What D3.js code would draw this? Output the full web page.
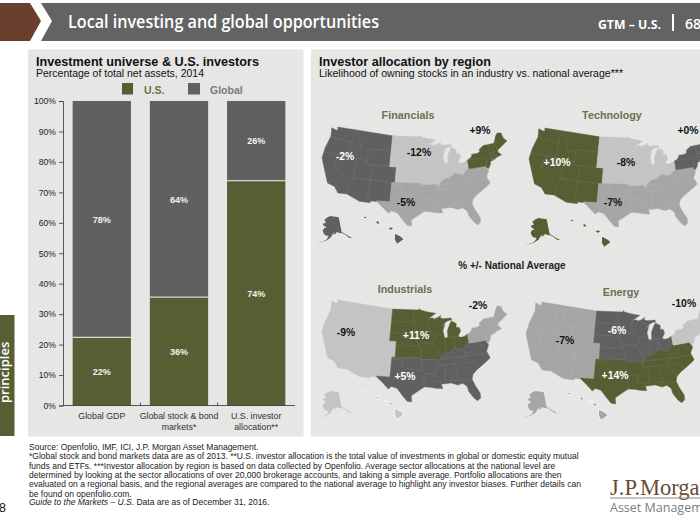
<!DOCTYPE html>
<html><head><meta charset="utf-8">
<script src="https://cdn.jsdelivr.net/npm/d3@7"></script>
<style>html,body{margin:0;padding:0;background:#fff;overflow:hidden}svg{display:block}text{font-family:"Liberation Sans",Arial,sans-serif}</style>
</head><body><svg id="c" width="700" height="525"></svg>
<script>
// ---------- bar chart data ----------
const barCategories = [["Global GDP"],["Global stock & bond","markets*"],["U.S. investor","allocation**"]];
const usShare = [22.4, 35.6, 73.8];
const globalShare = [77.6, 64.4, 26.2];
const percentTicks = [0,10,20,30,40,50,60,70,80,90,100];
// ---------- map data ----------
const sectors = ["Financials","Technology","Industrials","Energy"];
const regions = ["West","Midwest","South","Northeast"];
const financials = [-2,-12,-5,9];
const technology = [10,-8,-7,0];
const industrials = [-9,11,5,-2];
const energy = [-7,-6,14,-10];
// region outlines, [lon, lat]
const westOutline = [[-122.8,49],[-122.5,48.2],[-123.2,48.15],[-124.7,48.4],[-124,46.3],[-124.5,43],[-124.4,40.4],[-123,38.3],[-121.9,36.6],[-120.6,34.5],[-118.5,34],[-117.1,32.53],[-114.7,32.7],[-111.07,31.33],[-108.2,31.33],[-108.2,31.78],[-106.53,31.78],[-106.6,32],[-103.06,32],[-103,37],[-102.05,37],[-102.05,41],[-104.05,41],[-104.05,49]];
const midwestOutline = [[-104.05,49],[-104.05,41],[-102.05,41],[-102.05,37],[-94.62,37],[-94.62,36.5],[-90.15,36.5],[-90.37,36],[-89.7,36],[-89.5,36.5],[-89.15,37],[-88.05,37.8],[-87.5,37.9],[-86.5,38],[-85.4,38.7],[-84.8,39.1],[-84,38.75],[-82.6,38.45],[-82,39],[-80.8,39.7],[-80.52,40.6],[-80.52,42],[-81.5,41.6],[-82.5,41.4],[-83.4,41.7],[-83,42.3],[-82.4,43],[-82.7,44],[-83.6,44],[-83.4,45],[-84.8,45.75],[-85.5,45],[-86.4,43.5],[-86.5,42],[-87,41.65],[-87.5,41.8],[-87.8,43.5],[-87,45.2],[-88,44.6],[-87.6,45],[-86.5,45.7],[-85.5,46],[-84.7,45.95],[-84.8,46.5],[-87.4,46.5],[-88.4,46.9],[-88,47.4],[-89,46.9],[-90.4,46.6],[-90.8,46.9],[-92.1,46.75],[-89.6,48],[-90.8,48.2],[-93,48.6],[-94.6,49],[-95.15,49.38],[-95.15,49]];
const southOutline = [[-103,37],[-103.06,32],[-106.6,32],[-106.53,31.78],[-105,30.6],[-103.2,29],[-102.5,29.7],[-101,29.3],[-99.5,27.5],[-98.3,26.1],[-97.2,25.95],[-97.3,27.5],[-95.3,28.9],[-94,29.7],[-92.5,29.6],[-91,29.3],[-89.3,29.1],[-89.5,30.3],[-88.5,30.3],[-87,30.4],[-85.3,29.7],[-84,30],[-83,29.1],[-82.8,27.8],[-81.8,26],[-81,25.15],[-80.15,25.8],[-80.05,27],[-80.9,29],[-81.45,30.7],[-81,31.9],[-79.9,32.8],[-78,33.85],[-76.6,34.6],[-75.5,35.25],[-76,36.9],[-75.95,37.2],[-75.05,38.45],[-75.5,39.4],[-75.4,39.8],[-75.8,39.72],[-80.52,39.72],[-80.52,40.6],[-80.8,39.7],[-82,39],[-82.6,38.45],[-84,38.75],[-84.8,39.1],[-85.4,38.7],[-86.5,38],[-87.5,37.9],[-88.05,37.8],[-89.15,37],[-89.5,36.5],[-89.7,36],[-90.37,36],[-90.15,36.5],[-94.62,36.5],[-94.62,37],[-102.05,37]];
const northeastOutline = [[-80.52,42],[-79.8,42.25],[-78.9,42.9],[-79,43.3],[-77,43.3],[-76.2,43.7],[-76.3,44.2],[-74.7,45],[-71.5,45],[-71,45.3],[-70,46.7],[-69.2,47.4],[-68,47.1],[-67.8,45.6],[-67,44.8],[-69,43.9],[-70.7,43.1],[-70.8,42.5],[-70,41.7],[-70.7,41.6],[-71.9,41.3],[-72.9,41.2],[-73.7,41],[-72,41.1],[-73.9,40.6],[-74,40],[-74.9,38.95],[-75.5,39.4],[-75.4,39.8],[-75.8,39.72],[-80.52,39.72]];
const stateLines = [
 [[-124,46.3],[-123,46.2],[-119,46],[-116.9,46]],[[-117,49],[-117,46],[-116.9,44.2],[-117,42]],[[-124.2,42],[-111.05,42]],[[-120,42],[-120,39],[-114.6,35],[-114.7,32.7]],[[-114.05,42],[-114.05,36.2]],[[-114.05,37],[-103,37]],[[-109.05,31.33],[-109.05,41]],[[-111.05,41],[-102.05,41]],[[-111.05,45],[-111.05,41]],[[-111.05,45],[-104.05,45]],[[-116.05,49],[-114.5,46.6],[-113.5,44.5],[-111.05,44.5]],
 [[-104.05,45.94],[-96.56,45.94]],[[-104.05,43],[-98.5,43],[-96.5,42.5]],[[-102.05,40],[-95.3,40]],[[-97.2,49],[-96.56,45.94],[-96.5,43.5]],[[-96.5,43.5],[-91.2,43.5]],[[-96.5,42.5],[-95.3,40],[-94.62,39.1],[-94.62,37]],[[-95.3,40.6],[-91.4,40.6]],[[-92.8,45],[-91.2,43.5],[-90.2,41.8],[-91.4,40.4],[-90.2,38.8],[-89.15,37]],[[-92.1,46.75],[-92.8,45]],[[-90.6,42.5],[-87.8,42.5]],[[-87.5,41.8],[-87.5,38]],[[-84.8,41.7],[-84.8,39.1]],[[-87,41.75],[-83.4,41.7]],[[-90.4,46.6],[-88,45.8],[-87.6,45]],
 [[-100,36.5],[-103,36.5]],[[-100,36.5],[-100,34.6],[-94.5,33.7]],[[-94.05,33],[-94,29.7]],[[-94.05,33],[-91.2,33]],[[-94.62,36.5],[-94.45,33.6]],[[-89.7,36],[-91.2,33],[-91.6,31],[-89.7,31],[-89.5,30.3]],[[-90.1,35],[-84.3,35],[-81.7,36.6]],[[-89.5,36.5],[-81.7,36.6],[-75.9,36.55]],[[-88.2,35],[-88.4,30.3]],[[-85.6,35],[-85,32.3],[-85,31],[-84.9,30.7]],[[-87.5,31],[-85,31]],[[-84.9,30.7],[-82.2,30.5],[-81.45,30.7]],[[-83.1,35],[-81,32]],[[-83.1,35],[-81,35.1],[-78.6,33.85]],[[-82.6,38.45],[-82,37.5],[-81.7,36.6]],[[-82,37.5],[-80.3,37.5],[-78.4,39.2],[-77.7,39.3]],[[-77.7,39.3],[-77,38.4],[-76.2,38]],
 [[-79.8,42],[-75.3,42],[-74.7,41.35]],[[-74.7,41.35],[-75.4,39.8]],[[-73.5,41],[-73.3,42.75],[-73.3,45]],[[-73.3,42.75],[-70.8,42.8]],[[-73.5,42],[-71.4,42],[-71.8,41.3]],[[-72.5,42.75],[-71.5,45]],[[-71,45.3],[-70.7,43.1]]
];
const alaskaOutline = [[-156.5,71.3],[-141,70],[-141,60.3],[-139,59.7],[-136.5,58.2],[-131,55],[-133.5,55.5],[-137,58],[-140,59.5],[-144,60],[-147,60.8],[-149,59.8],[-151.7,59.1],[-150,61],[-153,59.5],[-155,57.5],[-160,55.5],[-164,54.5],[-170,52.8],[-163.5,54.8],[-160,56],[-157.5,58.5],[-162,58.8],[-164.5,60],[-166,61.5],[-164.5,63.3],[-161,63.8],[-165,64.5],[-168,65.5],[-163,66.8],[-166.5,68.3],[-163,70]];
const hawaiiIslands = [
 [[-155.9,20.25],[-155.1,19.85],[-154.8,19.5],[-155.65,18.95],[-155.95,19.5]],
 [[-156.7,20.9],[-156.3,20.95],[-156,20.75],[-156.4,20.58],[-156.65,20.75]],
 [[-158.25,21.55],[-157.95,21.7],[-157.65,21.3],[-158.1,21.3]],
 [[-159.75,22.1],[-159.4,22.2],[-159.3,21.95],[-159.6,21.88]],
 [[-157.3,21.15],[-156.75,21.15],[-156.9,21.05],[-157.25,21.08]]
];
// ---------- palette / layout (not data) ----------
const GREEN="#575e34",DARK="#606060",MID="#a6a6a6",LIGHT="#c4c4c4",PANEL="#e6e6e5";
const mapLayout = {
 Financials:{box:[[322,127],[507,226]],title:[408,118.5],labels:[[345,160],[419,156],[406,206],[480,134]],ak:[330,236],hi:[361,236]},
 Technology:{box:[[529,128],[714,227]],title:[612,118.5],labels:[[557,166],[626,166],[613,206],[688,134]],ak:[538,238],hi:[568,239]},
 Industrials:{box:[[322,300],[507,402]],title:[405,293],labels:[[346,336],[416,339],[405,380],[478,309]],ak:[330,411],hi:[361,411]},
 Energy:{box:[[526,302],[711,404]],title:[621,296],labels:[[565,344],[617,334],[615,379],[684,307]],ak:[535,411],hi:[565,412]}
};
const svg=d3.select("#c");
// header
const head=svg.append("g");
head.append("path").attr("d",d3.line()([[0,3],[30,3],[41,21],[30,41],[0,41]])).attr("fill","#6a3f2e");
head.append("path").attr("d",d3.line()([[41,3],[700,3],[700,41],[41,41],[52,21]])).attr("fill","#636363");
head.append("text").attr("x",68).attr("y",28).attr("fill","#fff").style("font-family","'Open Sans'").style("font-size","17.5px").style("font-weight","600").attr("textLength",311).attr("lengthAdjust","spacingAndGlyphs").text("Local investing and global opportunities");
head.append("text").attr("x",598).attr("y",29).attr("fill","#fff").style("font-family","'Open Sans'").style("font-size","12.5px").style("font-weight","700").attr("textLength",63).attr("lengthAdjust","spacingAndGlyphs").text("GTM – U.S.");
head.append("rect").attr("x",672).attr("y",14).attr("width",2).attr("height",17).attr("fill","#fff");
head.append("text").attr("x",685).attr("y",29).attr("fill","#fff").style("font-family","'Open Sans'").style("font-size","14px").style("font-weight","600").text("68");
// panels
svg.append("rect").attr("x",28).attr("y",49.5).attr("width",275.5).attr("height",387).attr("fill",PANEL);
svg.append("rect").attr("x",311).attr("y",49.5).attr("width",389).attr("height",387).attr("fill",PANEL);
function txt(x,y,s,size,opt={}){const t=svg.append("text").attr("x",x).attr("y",y).text(s).style("font-size",size+"px").attr("fill",opt.fill||"#111");
 if(opt.bold)t.style("font-weight","700"); if(opt.anchor)t.attr("text-anchor",opt.anchor); if(opt.italic)t.style("font-style","italic"); if(opt.len)t.attr("textLength",opt.len).attr("lengthAdjust","spacingAndGlyphs"); return t;}
txt(36,65.5,"Investment universe & U.S. investors",12.3,{bold:true,len:223});
txt(36,76.5,"Percentage of total net assets, 2014",10.3,{len:168});
txt(319,65.5,"Investor allocation by region",12.3,{bold:true,len:172});
txt(319,76.5,"Likelihood of owning stocks in an industry vs. national average***",10.3,{len:304});
// legend
svg.append("rect").attr("x",122).attr("y",83).attr("width",11).attr("height",11.5).attr("fill",GREEN);
txt(144,94,"U.S.",10.5,{bold:true,fill:"#6e6e4e"});
svg.append("rect").attr("x",188).attr("y",83).attr("width",12).attr("height",11.5).attr("fill",DARK);
txt(210,94,"Global",10.5,{bold:true,fill:"#7a7a7a"});
// bars
const xB=d3.scaleBand().domain(d3.range(barCategories.length)).range([63,295]).paddingInner(.245).paddingOuter(.125);
const yB=d3.scaleLinear().domain([0,100]).range([405.5,101]);
const bars=svg.append("g");
bars.selectAll(".g").data(globalShare).join("rect").attr("x",(d,i)=>xB(i)).attr("width",xB.bandwidth()).attr("y",(d,i)=>yB(usShare[i]+d)).attr("height",(d)=>yB(0)-yB(d)).attr("fill",DARK);
bars.selectAll(".u").data(usShare).join("rect").attr("class","u").attr("x",(d,i)=>xB(i)).attr("width",xB.bandwidth()).attr("y",d=>yB(d)).attr("height",d=>yB(0)-yB(d)).attr("fill",GREEN);
bars.selectAll(".s").data(usShare).join("line").attr("class","s").attr("x1",(d,i)=>xB(i)).attr("x2",(d,i)=>xB(i)+xB.bandwidth()).attr("y1",d=>yB(d)).attr("y2",d=>yB(d)).attr("stroke","#f2f2f2").attr("stroke-width",1);
bars.selectAll(".lu").data(usShare).join("text").attr("class","lu").attr("x",(d,i)=>xB(i)+xB.bandwidth()/2).attr("y",d=>yB(d/2)+3.5).attr("text-anchor","middle").attr("fill","#f2f2f2").style("font-size","9px").style("font-weight","700").text(d=>Math.round(d)+"%");
bars.selectAll(".lg").data(globalShare).join("text").attr("class","lg").attr("x",(d,i)=>xB(i)+xB.bandwidth()/2).attr("y",(d,i)=>yB(usShare[i]+d/2)+3.5).attr("text-anchor","middle").attr("fill","#f2f2f2").style("font-size","9px").style("font-weight","700").text(d=>Math.round(d)+"%");
// axes
const axY=d3.axisLeft(yB).tickValues(percentTicks).tickFormat(d=>d+"%").tickSize(4).tickPadding(3);
const gy=svg.append("g").attr("transform","translate(63,0)").call(axY);
gy.selectAll("path,line").attr("stroke","#333").attr("stroke-width",.8);
gy.selectAll("text").style("font-size","8.6px").attr("fill","#222").style("font-family","'Liberation Sans'");
const axis=svg.append("g");
axis.append("line").attr("x1",63).attr("x2",295).attr("y1",yB(0)).attr("y2",yB(0)).attr("stroke","#333").attr("stroke-width",.8);
axis.selectAll(".t").data([1,2]).join("line").attr("class","t").attr("x1",i=>xB(i)-xB.step()*.1225).attr("x2",i=>xB(i)-xB.step()*.1225).attr("y1",yB(0)).attr("y2",yB(0)-3).attr("stroke","#333").attr("stroke-width",.8);
barCategories.forEach((lines,i)=>lines.forEach((s,j)=>txt(xB(i)+xB.bandwidth()/2,419+j*10.5,s,8.8,{anchor:"middle",fill:"#333"})));
// maps
const shade=(vals)=>{const order=[...vals].sort(d3.descending);const sc=d3.scaleOrdinal().domain(order).range([GREEN,DARK,MID,LIGHT]);return v=>sc(v);};
const outlines=[westOutline,midwestOutline,southOutline,northeastOutline];
const sectorVals={Financials:financials,Technology:technology,Industrials:industrials,Energy:energy};
const base=d3.geoAlbers();
const basePts=[].concat(...outlines).map(base);
const line=d3.line();
sectors.forEach(name=>{
 const L=mapLayout[name],vals=sectorVals[name],col=shade(vals);
 const g=svg.append("g");
 const sx=d3.scaleLinear().domain(d3.extent(basePts,p=>p[0])).range([L.box[0][0],L.box[1][0]]);
 const sy=d3.scaleLinear().domain(d3.extent(basePts,p=>p[1])).range([L.box[0][1],L.box[1][1]]);
 const proj=c=>{const p=base(c);return [sx(p[0]),sy(p[1])];};
 g.selectAll("path.r").data(outlines).join("path").attr("class","r").attr("d",o=>line(o.map(proj))+"Z").attr("fill",(o,i)=>col(vals[i])).attr("stroke",(o,i)=>col(vals[i])).attr("stroke-width",.4);
 g.selectAll("path.st").data(stateLines).join("path").attr("class","st").attr("d",o=>line(o.map(proj))).attr("fill","none").attr("stroke","#fff").attr("stroke-opacity",.14).attr("stroke-width",.5);
 const ak=d3.geoConicEqualArea().rotate([154,0]).center([-2,58.5]).parallels([55,65]).scale(90).translate(L.ak);
 g.append("path").attr("d",line(alaskaOutline.map(ak))+"Z").attr("fill",col(vals[0]));
 const hi=d3.geoConicEqualArea().rotate([157,0]).center([-3,19.9]).parallels([8,18]).scale(500).translate(L.hi);
 g.selectAll("path.h").data(hawaiiIslands).join("path").attr("class","h").attr("d",o=>line(o.map(hi))+"Z").attr("fill",col(vals[0])).attr("stroke","#fff").attr("stroke-width",.8);
 txt(L.title[0],L.title[1],name,10.8,{bold:true,anchor:"middle",fill:"#6f6f52"});
 vals.forEach((v,i)=>{const c=col(v);const white=(c===GREEN||c===DARK)&&i!==3;
  txt(L.labels[i][0],L.labels[i][1],(v>=0?"+":"-")+Math.abs(v)+"%",10.4,{bold:true,anchor:"middle",fill:white?"#fff":"#111"});});
});
txt(512,269,"% +/- National Average",10,{bold:true,anchor:"middle",fill:"#222"});
// side tab
svg.append("rect").attr("x",0).attr("y",315).attr("width",14.5).attr("height",121).attr("fill",GREEN);
svg.append("text").attr("transform","translate(9,403) rotate(-90)").attr("fill","#fff").style("font-family","'Open Sans'").style("font-size","13px").style("font-weight","600").text("principles");
// footnotes
const notes=["Source: Openfolio, IMF, ICI, J.P. Morgan Asset Management.",
"*Global stock and bond markets data are as of 2013. **U.S. investor allocation is the total value of investments in global or domestic equity mutual",
"funds and ETFs. ***Investor allocation by region is based on data collected by Openfolio. Average sector allocations at the national level are",
"determined by looking at the sector allocations of over 20,000 brokerage accounts, and taking a simple average. Portfolio allocations are then",
"evaluated on a regional basis, and the regional averages are compared to the national average to highlight any investor biases. Further details can",
"be found on openfolio.com."];
notes.forEach((s,i)=>txt(29,450+i*9.35,s,8.53,{fill:"#222"}));
const g=txt(29,505,"",8.53,{fill:"#222"});
g.append("tspan").style("font-style","italic").text("Guide to the Markets – U.S. ");
g.append("tspan").text("Data are as of December 31, 2016.");
txt(-1,512,"8",12.5,{fill:"#111"});
// logo
svg.append("text").attr("x",610).attr("y",495).attr("fill","#6b4a35").style("font-family","'Liberation Serif'").style("font-size","22.5px").text("J.P.Morgan");
svg.append("line").attr("x1",610).attr("x2",700).attr("y1",498).attr("y2",498).attr("stroke","#8a8a8a").attr("stroke-width",1);
svg.append("text").attr("x",610).attr("y",512).attr("fill","#7d7d7d").style("font-family","'Open Sans'").style("font-size","12.5px").text("Asset Management");
</script></body></html>
